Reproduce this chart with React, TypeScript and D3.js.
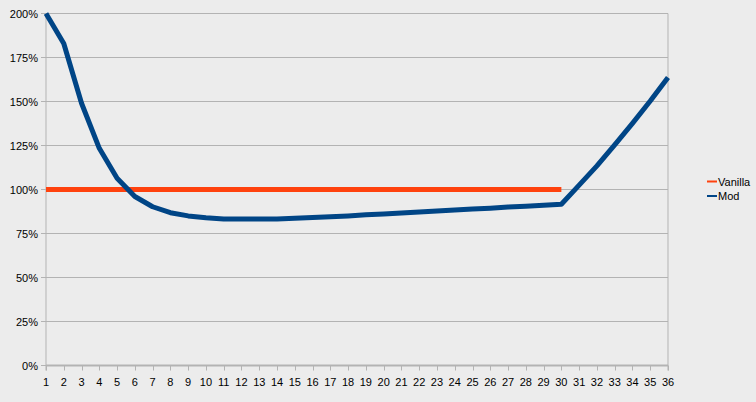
import React from "react";
import * as d3 from "d3";

const categories: number[] = d3.range(1, 37);
const modValues: number[] = [
  200, 183, 149, 123.4, 106.4, 96, 90.2, 86.8, 85, 84, 83.3, 83.2, 83.2, 83.3, 83.7, 84.1,
  84.5, 85, 85.6, 86.1, 86.7, 87.2, 87.8, 88.3, 88.9, 89.4, 90, 90.5, 91, 91.6,
  102.5, 113.4, 125.3, 137.6, 150.3, 163.7,
];
const vanillaValues: number[] = [
  100, 100, 100, 100, 100, 100, 100, 100, 100, 100, 100, 100, 100, 100, 100,
  100, 100, 100, 100, 100, 100, 100, 100, 100, 100, 100, 100, 100, 100, 100,
];
const yTicks: number[] = [0, 25, 50, 75, 100, 125, 150, 175, 200];
const seriesNames = ["Vanilla", "Mod"];
const seriesColors = ["#ff420e", "#004586"];

export default function App() {
  const W = 756, H = 402;
  const left = 46, right = 668, top = 13.5, bottom = 365.5;
  const x = d3.scalePoint<number>().domain(categories).range([left, right]);
  const y = d3.scaleLinear().domain([0, 200]).range([bottom, top]);
  const line = d3
    .line<number>()
    .x((_, i) => x(categories[i]) as number)
    .y((d) => y(d));
  const font = "'Liberation Sans', Arial, sans-serif";
  const grid = "#b3b3b3";
  return (
    <svg width={W} height={H} style={{ position: "absolute", left: 0, top: 0, display: "block" }}>
      <rect x={0} y={0} width={W} height={H} fill="#ececec" />
      {yTicks.map((t) => (
        <g key={t}>
          <line x1={left - 5} x2={right} y1={y(t)} y2={y(t)} stroke={grid} strokeWidth={1} />
          <text x={38} y={y(t) + 4} textAnchor="end" fontFamily={font} fontSize={11} fill="#000">
            {t}%
          </text>
        </g>
      ))}
      <line x1={left - 0.5 + 0.5} x2={left} y1={top} y2={bottom + 5} stroke={grid} strokeWidth={1} />
      <line x1={right} x2={right} y1={top} y2={bottom + 5} stroke={grid} strokeWidth={1} />
      <line x1={left} x2={right} y1={bottom} y2={bottom} stroke={grid} strokeWidth={2} />
      {categories.map((c) => (
        <g key={c}>
          <line x1={Math.round(x(c) as number) + 0.5} x2={Math.round(x(c) as number) + 0.5} y1={bottom} y2={bottom + 5} stroke={grid} strokeWidth={1} />
          <text x={x(c) as number} y={386} textAnchor="middle" fontFamily={font} fontSize={11} fill="#000">
            {c}
          </text>
        </g>
      ))}
      <path d={line(vanillaValues) || ""} fill="none" stroke={seriesColors[0]} strokeWidth={5} />
      <path d={line(modValues) || ""} fill="none" stroke={seriesColors[1]} strokeWidth={5} strokeLinejoin="round" />
      {seriesNames.map((n, i) => (
        <g key={n}>
          <line x1={707} x2={717} y1={181.5 + i * 14.5} y2={181.5 + i * 14.5} stroke={seriesColors[i]} strokeWidth={2} />
          <text x={718} y={185.5 + i * 14.5} fontFamily={font} fontSize={11} fill="#000">
            {n}
          </text>
        </g>
      ))}
    </svg>
  );
}
